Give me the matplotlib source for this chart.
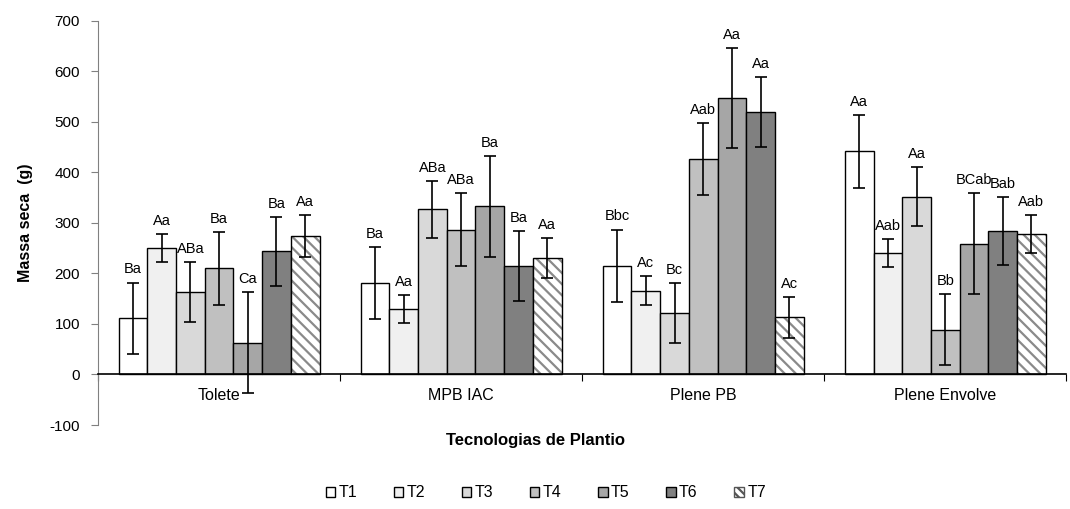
import numpy as np
import matplotlib.pyplot as plt
from matplotlib.patches import Patch

plt.rcParams['font.family'] = ['Liberation Sans', 'DejaVu Sans']
plt.rcParams['axes.unicode_minus'] = False
plt.rcParams['hatch.linewidth'] = 1.6

# dados
grupos = ['Tolete', 'MPB IAC', 'Plene PB', 'Plene Envolve']
tratamentos = ['T1', 'T2', 'T3', 'T4', 'T5', 'T6', 'T7']

medias = {
    'T1': [111, 181, 215, 442],
    'T2': [250, 129, 166, 240],
    'T3': [163, 327, 122, 352],
    'T4': [210, 287, 426, 89],
    'T5': [63, 333, 547, 259],
    'T6': [244, 215, 519, 284],
    'T7': [274, 231, 113, 278],
}
erros = {
    'T1': [71, 71, 72, 72],
    'T2': [28, 28, 28, 28],
    'T3': [59, 56, 59, 59],
    'T4': [72, 72, 71, 71],
    'T5': [100, 100, 99, 100],
    'T6': [68, 69, 69, 68],
    'T7': [41, 40, 41, 37],
}
letras = {
    'T1': ['Ba', 'Ba', 'Bbc', 'Aa'],
    'T2': ['Aa', 'Aa', 'Ac', 'Aab'],
    'T3': ['ABa', 'ABa', 'Bc', 'Aa'],
    'T4': ['Ba', 'ABa', 'Aab', 'Bb'],
    'T5': ['Ca', 'Ba', 'Aa', 'BCab'],
    'T6': ['Ba', 'Ba', 'Aa', 'Bab'],
    'T7': ['Aa', 'Aa', 'Ac', 'Aab'],
}

cores = ['#ffffff', '#f0f0f0', '#d9d9d9', '#c0c0c0', '#a6a6a6', '#808080', '#ffffff']

fig = plt.figure(figsize=(10.7, 5.09), dpi=100)
ax = fig.add_axes([0.0916, 0.165, 0.905, 0.794])

x = np.arange(len(grupos))
largura = 0.83 / 7
handles = []

for i, t in enumerate(tratamentos):
    pos = x - 0.415 + largura * (i + 0.5)
    if t == 'T7':
        # hachura cinza e contorno preto por cima
        ax.bar(pos, medias[t], largura, color='white', edgecolor='#8a8a8a',
               linewidth=0, hatch='\\\\\\', zorder=2)
        ax.bar(pos, medias[t], largura, fill=False, edgecolor='black',
               linewidth=1.0, zorder=2)
        handles.append(Patch(facecolor='white', edgecolor='#555555',
                             hatch='\\\\\\\\', linewidth=1.0, label=t))
    else:
        ax.bar(pos, medias[t], largura, color=cores[i], edgecolor='black',
               linewidth=1.0, zorder=2)
        handles.append(Patch(facecolor=cores[i], edgecolor='black',
                             linewidth=1.0, label=t))
    ax.errorbar(pos, medias[t], yerr=erros[t], fmt='none', ecolor='black',
                elinewidth=1.2, capsize=4, capthick=1.2, zorder=3)
    for xp, m, e, lt in zip(pos, medias[t], erros[t], letras[t]):
        ax.text(xp, m + e + 12, lt, ha='center', va='bottom', fontsize=10.5)

ax.set_ylim(-100, 700)
ax.set_xlim(-0.5, len(grupos) - 0.5)
ax.set_yticks(range(-100, 701, 100))
ax.tick_params(axis='y', labelsize=11, color='#808080', length=5, pad=8)

ax.spines['top'].set_visible(False)
ax.spines['right'].set_visible(False)
ax.spines['left'].set_color('#808080')
ax.spines['bottom'].set_position(('data', 0))
ax.spines['bottom'].set_linewidth(1.2)

ax.set_xticks(np.arange(len(grupos) + 1) - 0.5)
ax.set_xticklabels([])
ax.set_xticks(x, minor=True)
ax.set_xticklabels(grupos, minor=True, fontsize=11.5)
ax.tick_params(axis='x', which='major', length=5, direction='out')
ax.tick_params(axis='x', which='minor', length=0, pad=10)

ax.set_ylabel('Massa seca  (g)', fontsize=11.5, fontweight='bold', labelpad=12)
fig.text(0.5, 0.135, 'Tecnologias de Plantio', ha='center', va='center',
         fontsize=12, fontweight='bold')

fig.legend(handles=handles, loc='center', bbox_to_anchor=(0.51, 0.032), ncol=7,
           frameon=False, fontsize=11.5, handlelength=0.6, handleheight=0.6,
           columnspacing=2.3, handletextpad=0.2)

plt.savefig('out.png', dpi=100)
